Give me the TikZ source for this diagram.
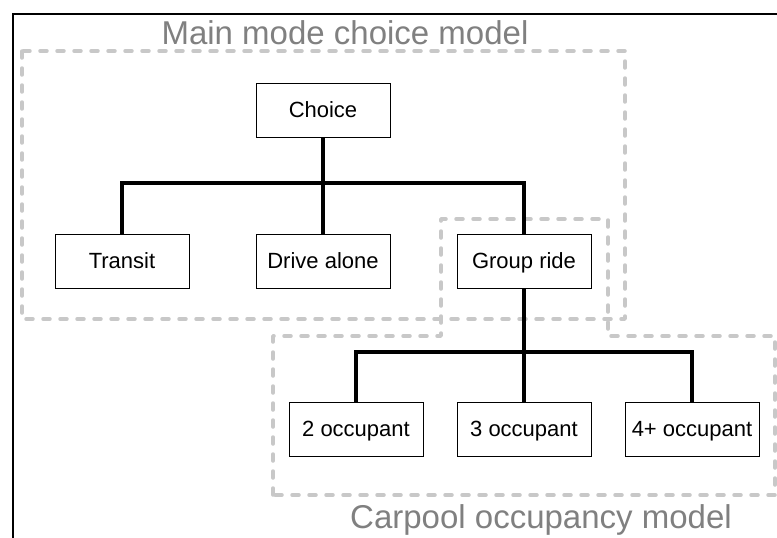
\documentclass[tikz,border=0pt]{standalone}
\usepackage{fontspec}
\setmainfont{Liberation Sans}
\definecolor{modelgray}{RGB}{200,200,200}
\definecolor{titlegray}{RGB}{128,128,128}

\begin{document}
\begin{tikzpicture}[x=1pt, y=-1pt, node distance=201pt, thick,
  main/.style = {draw, rectangle, line width=0.9pt, minimum width=134pt, minimum height=54pt, text height=15.5pt, text depth=0pt, font=\fontsize{22}{26}\selectfont},
  link/.style = {line width=4pt},
  model/.style = {draw=modelgray, line width=3.5pt, dash pattern=on 7pt off 10pt, line cap=round, line join=round},
  modeltitle/.style = {text=titlegray, anchor=base, inner sep=0pt, font=\fontsize{33}{40}\selectfont}]
\useasboundingbox (0,0) rectangle (777,538);
\draw[line width=2.5pt] (13,538) -- (13,14) -- (777,14);

\draw[model] (22,51) rectangle (625,319);
\draw[model] (273,495) -- (273,336) -- (441,336) -- (441,219) -- (608,219) -- (608,336) -- (775,336) -- (775,495) -- cycle;
\node[modeltitle] (maintitle) at (345,44) {Main mode choice model};
\node[modeltitle] (cartitle) at (541,528) {Carpool occupancy model};

\node[main] (transit) at (122,261) {Transit};
\node[main] (drive) [right of=transit] {Drive alone};
\node[main] (group) [right of=drive] {Group ride};
\node[main] (choice) [above of=drive, node distance=151pt] {Choice};
\node[main] (occ3) [below of=group, node distance=168pt] {3 occupant};
\node[main] (occ2) [left of=occ3, node distance=168pt] {2 occupant};
\node[main] (occ4) [right of=occ3, node distance=168pt] {4+ occupant};

\coordinate (mainsplit) at (choice.south |- 0,183);
\coordinate (carsplit) at (group.south |- 0,352);
\draw[link] (choice.south) -- (mainsplit);
\draw[link] (transit.north) |- (mainsplit) -| (group.north);
\draw[link] (drive.north) -- (drive.north |- mainsplit);
\draw[link] (group.south) -- (carsplit);
\draw[link] (occ2.north) |- (carsplit) -| (occ4.north);
\draw[link] (occ3.north) -- (carsplit);
\end{tikzpicture}
\end{document}
